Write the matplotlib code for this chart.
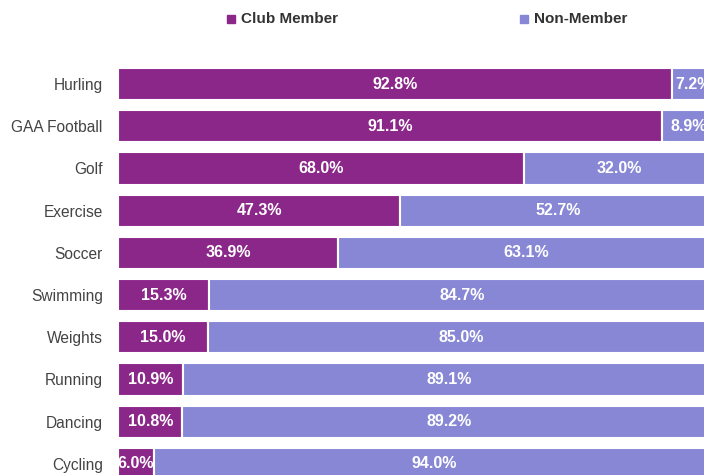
import numpy as np
import matplotlib.pyplot as plt
from matplotlib.lines import Line2D

plt.rcParams['font.family'] = ['Liberation Sans', 'DejaVu Sans']

# 各项运动：俱乐部会员 / 非会员占比
sports = ['Hurling', 'GAA Football', 'Golf', 'Exercise', 'Soccer',
          'Swimming', 'Weights', 'Running', 'Dancing', 'Cycling']
club = [92.8, 91.1, 68.0, 47.3, 36.9, 15.3, 15.0, 10.9, 10.8, 6.0]
non_member = [7.2, 8.9, 32.0, 52.7, 63.1, 84.7, 85.0, 89.1, 89.2, 94.0]
series = ['Club Member', 'Non-Member']

c_club = '#8C278A'
c_non = '#8787D6'

W, H = 704, 475
fig = plt.figure(figsize=(W / 100, H / 100), dpi=100)
# 坐标轴故意超出画布右侧和下侧，与原图一致
ax = fig.add_axes([118 / W, -10 / H, 597 / W, 422 / H])

y = np.arange(len(sports))
h = 0.76
ax.barh(y, club, height=h, color=c_club, edgecolor='white', linewidth=1.5)
ax.barh(y, non_member, left=club, height=h, color=c_non, edgecolor='white', linewidth=1.5)

for i in range(len(sports)):
    ax.text(club[i] / 2, y[i], f'{club[i]:.1f}%', ha='center', va='center',
            color='white', fontsize=11.5, fontweight='bold')
    ax.text(club[i] + non_member[i] / 2, y[i], f'{non_member[i]:.1f}%', ha='center',
            va='center', color='white', fontsize=11.5, fontweight='bold')

ax.set_xlim(0, 100)
ax.set_ylim(len(sports) - 0.5, -0.5)
ax.set_yticks(y)
ax.set_yticklabels(sports, fontsize=11.2, color='#444444')
ax.tick_params(axis='y', length=0, pad=11)
ax.set_xticks([])
for s in ax.spines.values():
    s.set_visible(False)

# 图例：手动放在顶部
for name, col, xm in zip(series, [c_club, c_non], [231, 524]):
    fig.add_artist(Line2D([xm / W], [1 - 19 / H], marker='s', color=col, markersize=5.5,
                          linestyle='', transform=fig.transFigure))
    fig.text((xm + 10) / W, 1 - 19 / H, name, ha='left', va='center', fontsize=11,
             fontweight='bold', color='#333333')

fig.savefig('out.png', dpi=100)
